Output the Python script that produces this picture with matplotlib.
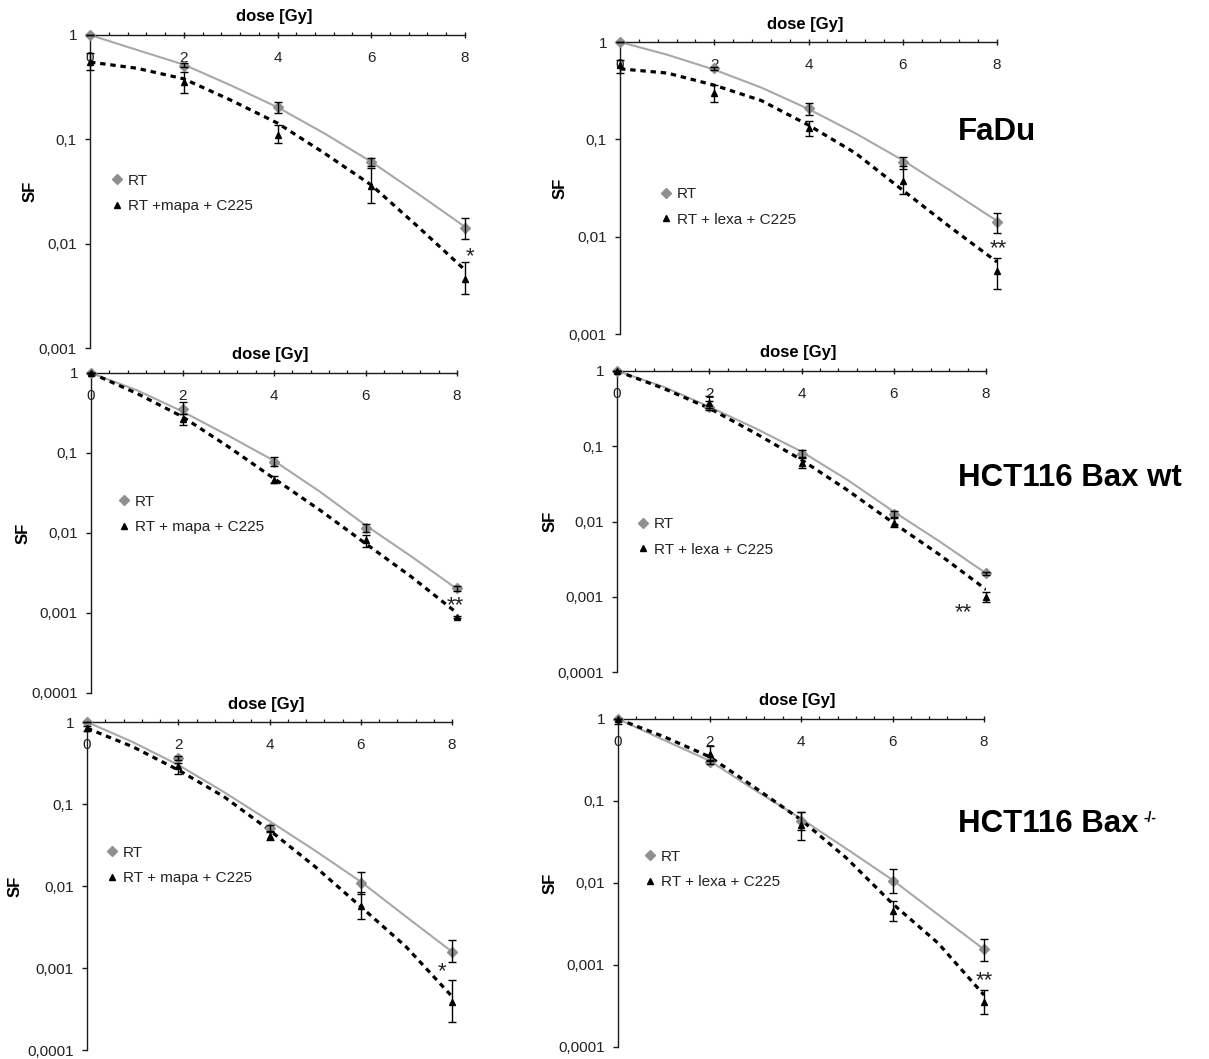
import matplotlib
matplotlib.use('Agg')
import matplotlib.pyplot as plt
from matplotlib.lines import Line2D
from matplotlib.ticker import FixedLocator, MultipleLocator, FixedFormatter, NullLocator
import numpy as np

plt.rcParams['font.family'] = ['Liberation Sans', 'DejaVu Sans']

# ---------------- data ----------------
dose = [0, 2, 4, 6, 8]
fit_dose = [0, 1, 2, 3, 4, 5, 6, 7, 8]
x_ticks = [0, 2, 4, 6, 8]

y_ticks_3 = [1, 0.1, 0.01, 0.001]
y_labels_3 = ['1', '0,1', '0,01', '0,001']
y_ticks_4 = [1, 0.1, 0.01, 0.001, 0.0001]
y_labels_4 = ['1', '0,1', '0,01', '0,001', '0,0001']

series_rt = 'RT'
label_mapa_1 = 'RT +mapa + C225'
label_mapa = 'RT + mapa + C225'
label_lexa = 'RT + lexa + C225'

cell_lines = ['FaDu', 'HCT116 Bax wt', 'HCT116 Bax']
ko_superscript = '-/-'

# FaDu, RT + mapatumumab + C225
fadu_mapa_rt = [1.0, 0.51, 0.203, 0.060, 0.014]
fadu_mapa_rt_lo = [1.0, 0.49, 0.178, 0.055, 0.011]
fadu_mapa_rt_hi = [1.0, 0.54, 0.229, 0.066, 0.0177]
fadu_mapa_tr = [0.55, 0.357, 0.11, 0.036, 0.00455]
fadu_mapa_tr_lo = [0.46, 0.279, 0.092, 0.0244, 0.00326]
fadu_mapa_tr_hi = [0.67, 0.445, 0.137, 0.0526, 0.0066]
fadu_mapa_rt_fit = [1.0, 0.72, 0.52, 0.33, 0.203, 0.114, 0.061, 0.030, 0.0145]
fadu_mapa_tr_fit = [0.55, 0.48, 0.38, 0.238, 0.143, 0.0737, 0.0365, 0.0145, 0.0056]
fadu_mapa_sig = ('*', 8.1, 0.0087)

# FaDu, RT + lexatumumab + C225
fadu_lexa_rt = [1.0, 0.537, 0.208, 0.059, 0.014]
fadu_lexa_rt_lo = [1.0, 0.51, 0.178, 0.050, 0.011]
fadu_lexa_rt_hi = [1.0, 0.56, 0.238, 0.066, 0.0177]
fadu_lexa_tr = [0.58, 0.297, 0.13, 0.0376, 0.0044]
fadu_lexa_tr_lo = [0.48, 0.244, 0.108, 0.0274, 0.00287]
fadu_lexa_tr_hi = [0.65, 0.361, 0.155, 0.0535, 0.0061]
fadu_lexa_rt_fit = [1.0, 0.74, 0.52, 0.34, 0.205, 0.115, 0.061, 0.030, 0.0145]
fadu_lexa_tr_fit = [0.53, 0.48, 0.36, 0.25, 0.14, 0.072, 0.030, 0.0126, 0.0055]
fadu_lexa_sig = ('**', 8.03, 0.0089)

# HCT116 Bax wt, mapa
wt_mapa_rt = [1.0, 0.355, 0.078, 0.0115, 0.00204]
wt_mapa_rt_lo = [1.0, 0.31, 0.068, 0.0104, 0.00191]
wt_mapa_rt_hi = [1.0, 0.43, 0.09, 0.0128, 0.00218]
wt_mapa_tr = [1.0, 0.266, 0.046, 0.0082, 0.0009]
wt_mapa_tr_lo = [1.0, 0.223, 0.042, 0.0066, 0.00087]
wt_mapa_tr_hi = [1.0, 0.31, 0.051, 0.0095, 0.00093]
wt_mapa_rt_fit = [1.0, 0.61, 0.33, 0.165, 0.08, 0.033, 0.0125, 0.0051, 0.002]
wt_mapa_tr_fit = [1.0, 0.557, 0.284, 0.12, 0.048, 0.0194, 0.0074, 0.00284, 0.001]
wt_mapa_sig = ('**', 7.96, 0.00153)

# HCT116 Bax wt, lexa
wt_lexa_rt = [1.0, 0.336, 0.080, 0.0126, 0.00205]
wt_lexa_rt_lo = [1.0, 0.30, 0.071, 0.0114, 0.00196]
wt_lexa_rt_hi = [1.0, 0.40, 0.09, 0.0136, 0.00215]
wt_lexa_tr = [1.0, 0.38, 0.0605, 0.0096, 0.001]
wt_lexa_tr_lo = [1.0, 0.32, 0.051, 0.0084, 0.00085]
wt_lexa_tr_hi = [1.0, 0.46, 0.069, 0.011, 0.00116]
wt_lexa_rt_fit = [1.0, 0.62, 0.335, 0.173, 0.085, 0.0356, 0.0135, 0.0054, 0.00205]
wt_lexa_tr_fit = [1.0, 0.59, 0.32, 0.149, 0.066, 0.026, 0.0095, 0.0036, 0.00125]
wt_lexa_sig = ('**', 7.5, 0.00076)

# HCT116 Bax-/-, mapa
ko_mapa_rt = [1.0, 0.36, 0.0505, 0.011, 0.00158]
ko_mapa_rt_lo = [1.0, 0.34, 0.045, 0.0080, 0.00117]
ko_mapa_rt_hi = [1.0, 0.38, 0.056, 0.0149, 0.00218]
ko_mapa_tr = [0.84, 0.29, 0.0407, 0.0057, 0.00039]
ko_mapa_tr_lo = [0.77, 0.23, 0.036, 0.0040, 0.000222]
ko_mapa_tr_hi = [0.90, 0.32, 0.047, 0.0085, 0.00071]
ko_mapa_rt_fit = [1.0, 0.57, 0.30, 0.14, 0.062, 0.027, 0.0113, 0.0042, 0.00158]
ko_mapa_tr_fit = [0.84, 0.50, 0.26, 0.123, 0.048, 0.0172, 0.0056, 0.0018, 0.00045]
ko_mapa_sig = ('*', 7.79, 0.0011)

# HCT116 Bax-/-, lexa
ko_lexa_rt = [1.0, 0.30, 0.057, 0.0107, 0.00155]
ko_lexa_rt_lo = [1.0, 0.28, 0.044, 0.0075, 0.00113]
ko_lexa_rt_hi = [1.0, 0.32, 0.074, 0.0148, 0.0021]
ko_lexa_tr = [1.0, 0.374, 0.051, 0.0046, 0.00035]
ko_lexa_tr_lo = [0.87, 0.31, 0.0335, 0.0034, 0.00025]
ko_lexa_tr_hi = [1.0, 0.47, 0.074, 0.0061, 0.0005]
ko_lexa_rt_fit = [1.0, 0.555, 0.31, 0.135, 0.061, 0.026, 0.0109, 0.0041, 0.00155]
ko_lexa_tr_fit = [1.0, 0.61, 0.347, 0.145, 0.059, 0.020, 0.0056, 0.00184, 0.00043]
ko_lexa_sig = ('**', 8.0, 0.00078)

# ---------------- layout (pixels) ----------------
W, H = 1209, 1059
fig = plt.figure(figsize=(W / 100, H / 100), dpi=100)

panels = [
    dict(box=(90, 465, 35, 348), ymin=0.001, yt=y_ticks_3, yl=y_labels_3,
         rt=fadu_mapa_rt, rlo=fadu_mapa_rt_lo, rhi=fadu_mapa_rt_hi,
         tr=fadu_mapa_tr, tlo=fadu_mapa_tr_lo, thi=fadu_mapa_tr_hi,
         rfit=fadu_mapa_rt_fit, tfit=fadu_mapa_tr_fit, sig=fadu_mapa_sig,
         lab=label_mapa_1, leg=(117, 193.5), sfx=-60),
    dict(box=(620, 997, 42, 334), ymin=0.001, yt=y_ticks_3, yl=y_labels_3,
         rt=fadu_lexa_rt, rlo=fadu_lexa_rt_lo, rhi=fadu_lexa_rt_hi,
         tr=fadu_lexa_tr, tlo=fadu_lexa_tr_lo, thi=fadu_lexa_tr_hi,
         rfit=fadu_lexa_rt_fit, tfit=fadu_lexa_tr_fit, sig=fadu_lexa_sig,
         lab=label_lexa, leg=(666, 207), sfx=-60),
    dict(box=(91, 457, 373, 693), ymin=0.0001, yt=y_ticks_4, yl=y_labels_4,
         rt=wt_mapa_rt, rlo=wt_mapa_rt_lo, rhi=wt_mapa_rt_hi,
         tr=wt_mapa_tr, tlo=wt_mapa_tr_lo, thi=wt_mapa_tr_hi,
         rfit=wt_mapa_rt_fit, tfit=wt_mapa_tr_fit, sig=wt_mapa_sig,
         lab=label_mapa, leg=(124, 514.5), sfx=-68),
    dict(box=(617, 986, 371, 672), ymin=0.0001, yt=y_ticks_4, yl=y_labels_4,
         rt=wt_lexa_rt, rlo=wt_lexa_rt_lo, rhi=wt_lexa_rt_hi,
         tr=wt_lexa_tr, tlo=wt_lexa_tr_lo, thi=wt_lexa_tr_hi,
         rfit=wt_lexa_rt_fit, tfit=wt_lexa_tr_fit, sig=wt_lexa_sig,
         lab=label_lexa, leg=(643, 537), sfx=-67),
    dict(box=(87, 452, 722, 1050), ymin=0.0001, yt=y_ticks_4, yl=y_labels_4,
         rt=ko_mapa_rt, rlo=ko_mapa_rt_lo, rhi=ko_mapa_rt_hi,
         tr=ko_mapa_tr, tlo=ko_mapa_tr_lo, thi=ko_mapa_tr_hi,
         rfit=ko_mapa_rt_fit, tfit=ko_mapa_tr_fit, sig=ko_mapa_sig,
         lab=label_mapa, leg=(112, 865.5), sfx=-72),
    dict(box=(618, 984, 719, 1047), ymin=0.0001, yt=y_ticks_4, yl=y_labels_4,
         rt=ko_lexa_rt, rlo=ko_lexa_rt_lo, rhi=ko_lexa_rt_hi,
         tr=ko_lexa_tr, tlo=ko_lexa_tr_lo, thi=ko_lexa_tr_hi,
         rfit=ko_lexa_rt_fit, tfit=ko_lexa_tr_fit, sig=ko_lexa_sig,
         lab=label_lexa, leg=(650, 869.5), sfx=-68),
]

GRAY_M = '#8f8f8f'
GRAY_L = '#a8a8a8'
AX_C = '#1a1a1a'

for p in panels:
    l, r, t, b = p['box']
    ax = fig.add_axes([l / W, 1 - b / H, (r - l) / W, (b - t) / H])
    ax.set_yscale('log')
    ax.set_xlim(0, 8)
    ax.set_ylim(p['ymin'], 1)
    for s in ('right', 'bottom'):
        ax.spines[s].set_visible(False)
    for s in ('left', 'top'):
        ax.spines[s].set_color(AX_C)
        ax.spines[s].set_linewidth(1.0)

    # ticks
    ax.xaxis.set_ticks_position('top')
    ax.xaxis.set_major_locator(FixedLocator(x_ticks))
    ax.xaxis.set_minor_locator(MultipleLocator(0.4))
    ax.tick_params(axis='x', which='major', direction='inout', length=5, width=1,
                   color=AX_C, labelsize=11, pad=-24.0, labeltop=True,
                   labelbottom=False, top=True, bottom=False, labelcolor='#222222')
    ax.tick_params(axis='x', which='minor', direction='out', length=2.5, width=0.9,
                   color=AX_C, top=True, bottom=False)
    ax.yaxis.set_major_locator(FixedLocator(p['yt']))
    ax.yaxis.set_major_formatter(FixedFormatter(p['yl']))
    ax.yaxis.set_minor_locator(NullLocator())
    ax.tick_params(axis='y', which='major', direction='out', length=3.6, width=1,
                   color=AX_C, labelsize=11, pad=5.8, labelcolor='#222222')

    ax.set_xlabel('dose [Gy]', fontsize=12, fontweight='bold')
    ax.xaxis.set_label_position('top')
    ax.xaxis.set_label_coords(0.49, 1 + 18 / (b - t))
    ax.xaxis.label.set_va('center')
    ax.set_ylabel('SF', fontsize=12, fontweight='bold')
    ax.yaxis.set_label_coords(p['sfx'] / (r - l), 0.5)
    ax.yaxis.label.set_va('center')

    # fitted curves
    ax.plot(fit_dose, p['rfit'], color=GRAY_L, lw=1.5, zorder=2)
    ax.plot(fit_dose, p['tfit'], color='black', lw=2.3, dashes=(1.7, 1.5), zorder=2)

    # error bars
    rt = np.array(p['rt']); tr = np.array(p['tr'])
    ax.errorbar(dose, rt, yerr=[rt - np.array(p['rlo']), np.array(p['rhi']) - rt],
                fmt='none', ecolor='black', elinewidth=1, capsize=3.2, capthick=1,
                zorder=4, clip_on=False)
    ax.errorbar(dose, tr, yerr=[tr - np.array(p['tlo']), np.array(p['thi']) - tr],
                fmt='none', ecolor='black', elinewidth=1, capsize=3.2, capthick=1,
                zorder=4, clip_on=False)
    ax.plot(dose, rt, ls='none', marker='D', ms=5.0, color=GRAY_M, zorder=3, clip_on=False)
    ax.plot(dose, tr, ls='none', marker='^', ms=4.6, color='black', zorder=3, clip_on=False)

    # significance
    sym, sx, sy = p['sig']
    ax.annotate(sym, xy=(sx, sy), xytext=(0, -9), textcoords='offset points',
                ha='center', va='baseline', fontsize=16, color='#222222',
                annotation_clip=False)

    # legend
    handles = [Line2D([], [], ls='none', marker='D', ms=4.6, color=GRAY_M),
               Line2D([], [], ls='none', marker='^', ms=4.6, color='black')]
    lx, ly = p['leg']
    ax.legend(handles, [series_rt, p['lab']], loc='center left',
              bbox_to_anchor=((lx - 4.6) / W, 1 - ly / H), bbox_transform=fig.transFigure,
              frameon=False, fontsize=11, handlelength=0.6, handletextpad=0.4,
              labelspacing=0.75, borderpad=0, borderaxespad=0, labelcolor='#222222')

# cell line labels
fig.text(958 / W, 1 - 140 / H, cell_lines[0], fontsize=22.5, fontweight='bold', va='baseline')
fig.text(958 / W, 1 - 486 / H, cell_lines[1], fontsize=22.5, fontweight='bold', va='baseline')
t3 = fig.text(958 / W, 1 - 832 / H, cell_lines[2], fontsize=22.5, fontweight='bold', va='baseline')
fig.canvas.draw()
ext = t3.get_window_extent(renderer=fig.canvas.get_renderer())
fig.text((ext.x1 + 5) / W, 1 - 822 / H, ko_superscript, fontsize=10, fontweight='bold', va='baseline')

fig.savefig('out.png', dpi=100)
